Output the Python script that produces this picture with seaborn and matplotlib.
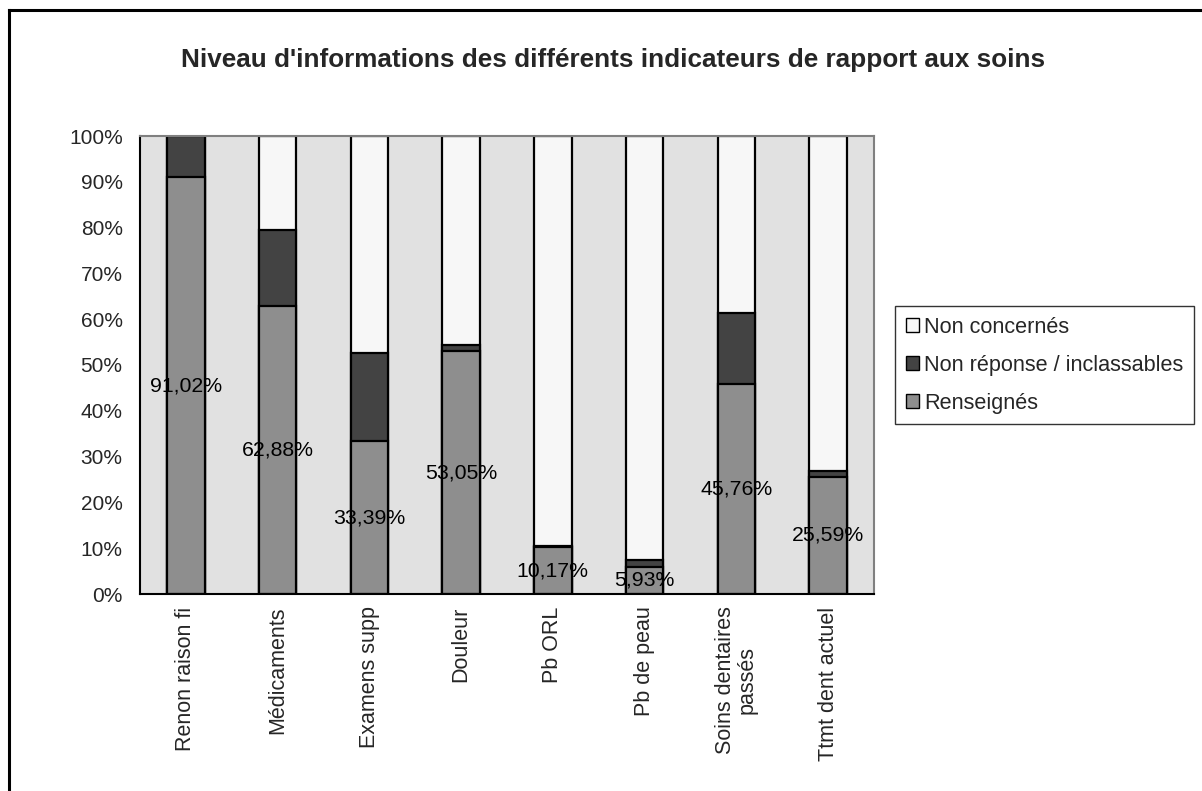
import matplotlib
matplotlib.use("Agg")
import matplotlib.pyplot as plt
import matplotlib.patches as mpatches
from matplotlib.lines import Line2D
from matplotlib.ticker import FixedLocator, FuncFormatter
import seaborn as sns
import pandas as pd
import numpy as np

categories = ["Renon raison fi", "Médicaments", "Examens supp", "Douleur",
              "Pb ORL", "Pb de peau", "Soins dentaires\npassés", "Ttmt dent actuel"]
renseignes = [91.02, 62.88, 33.39, 53.05, 10.17, 5.93, 45.76, 25.59]
non_reponse = [8.98, 16.5, 19.3, 1.3, 0.4, 1.4, 15.6, 1.3]
non_concernes = [0.0, 20.62, 47.31, 45.65, 89.43, 92.67, 38.64, 73.11]
value_labels = ["91,02%", "62,88%", "33,39%", "53,05%", "10,17%", "5,93%", "45,76%", "25,59%"]
series_names = ["Non concernés", "Non réponse / inclassables", "Renseignés"]
y_ticks = [0, 10, 20, 30, 40, 50, 60, 70, 80, 90, 100]

sns.set_style("white")
plt.rcParams["font.family"] = ["Liberation Sans", "DejaVu Sans"]

df = pd.DataFrame({
    "cat": categories,
    "r": renseignes,
    "nr": non_reponse,
    "nc": non_concernes,
})
df["top_nr"] = df["r"] + df["nr"]
df["top_nc"] = df["top_nr"] + df["nc"]

col_nc = "#F7F7F7"
col_nr = "#434343"
col_r = "#8E8E8E"

W, H = 1202, 791
fig = plt.figure(figsize=(W / 100, H / 100), dpi=100)
ax = fig.add_axes([140 / W, 1 - 594 / H, (874 - 140) / W, (594 - 136) / H])
ax.set_facecolor("#E1E1E1")

width = 0.41
for col, c in [("top_nc", col_nc), ("top_nr", col_nr), ("r", col_r)]:
    sns.barplot(data=df, x="cat", y=col, color=c, width=width, ax=ax,
                edgecolor="black", linewidth=1.6, saturation=1, errorbar=None)

for i, (v, lab) in enumerate(zip(renseignes, value_labels)):
    ax.text(i, v / 2, lab, ha="center", va="center", fontsize=15.3, color="black")

ax.set_ylim(0, 100)
ax.set_xlim(-0.5, len(categories) - 0.5)
ax.set_yticks(y_ticks)
ax.yaxis.set_major_formatter(FuncFormatter(lambda v, p: f"{int(v)}%"))
ax.set_xlabel("")
ax.set_ylabel("")
ax.set_xticks(range(len(categories)))
ax.set_xticklabels(categories, rotation=90, fontsize=15.5, linespacing=1.0)
ax.tick_params(axis="x", which="major", length=0, pad=9)
ax.xaxis.set_minor_locator(FixedLocator(np.arange(-0.5, len(categories), 1.0)))
ax.tick_params(axis="x", which="minor", length=6, width=1, color="black", direction="out")
ax.tick_params(axis="y", which="major", length=10, width=1, color="black", direction="inout",
               labelsize=15, pad=7.5)
for lab in ax.get_xticklabels():
    lab.set_multialignment("center")

for s in ["left", "bottom"]:
    ax.spines[s].set_color("black")
    ax.spines[s].set_linewidth(1.5)
for s in ["top", "right"]:
    ax.spines[s].set_color("#808080")
    ax.spines[s].set_linewidth(1.5)

handles = [mpatches.Patch(facecolor=c, edgecolor="black", linewidth=1.0, label=n)
           for c, n in zip([col_nc, col_nr, col_r], series_names)]
leg = fig.legend(handles=handles, loc="upper left",
                 bbox_to_anchor=(895 / W, 1 - 306 / H),
                 fontsize=15.6, frameon=True, fancybox=False, edgecolor="black",
                 handlelength=0.6, handleheight=0.6, handletextpad=0.25,
                 labelspacing=0.78, borderpad=0.5, borderaxespad=0)
leg.get_frame().set_linewidth(1.0)

fig.text(613 / W, 1 - 60 / H,
         "Niveau d'informations des différents indicateurs de rapport aux soins",
         ha="center", va="center", fontsize=18.8, fontweight="bold")

fig.add_artist(Line2D([9 / W, 9 / W], [0, 1 - 10 / H], transform=fig.transFigure,
                      color="black", linewidth=2.2, solid_capstyle="projecting"))
fig.add_artist(Line2D([9 / W, 1], [1 - 10 / H, 1 - 10 / H], transform=fig.transFigure,
                      color="black", linewidth=2.2, solid_capstyle="projecting"))

fig.savefig("out.png", dpi=100)
